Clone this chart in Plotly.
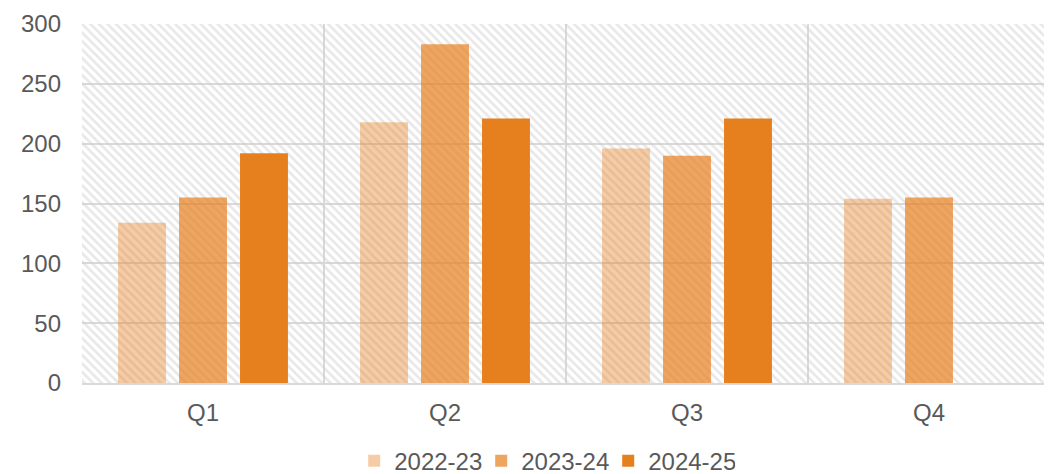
import plotly.graph_objects as go

quarters = ["Q1", "Q2", "Q3", "Q4"]
years = ["2022-23", "2023-24", "2024-25"]
values_2022 = [134, 218, 196, 154]
values_2023 = [155, 283, 190, 155]
values_2024 = [192, 221, 221, None]
y_ticks = [0, 50, 100, 150, 200, 250, 300]

series = [values_2022, values_2023, values_2024]
colors = ["rgba(230,127,30,0.4)", "rgba(230,127,30,0.7)", "rgb(230,127,30)"]
offsets = [-0.351, -0.099, 0.153]
bar_width = 0.198

fig = go.Figure()

# hatched plot background (one bar per category filling the whole slot)
fig.add_trace(go.Bar(
    x=quarters, y=[y_ticks[-1]] * len(quarters),
    width=1, offset=-0.5,
    marker=dict(color="rgba(0,0,0,0)", line=dict(width=0),
                pattern=dict(shape="\\", fgcolor="#cfcfcf", size=6, solidity=0.42)),
    showlegend=False, hoverinfo="skip",
))

for name, vals, col, off in zip(years, series, colors, offsets):
    fig.add_trace(go.Bar(
        x=quarters, y=vals, name=name,
        width=bar_width, offset=off,
        marker=dict(color=col, line=dict(width=0)),
    ))

# page body adds an 8px offset; figure is sized so the plot lands where wanted
fig.update_layout(
    width=1044, height=484,
    margin=dict(l=74, r=2, t=12, b=109),
    barmode="overlay",
    plot_bgcolor="white", paper_bgcolor="white",
    font=dict(family="Liberation Sans, Arial, sans-serif", size=24, color="#595959"),
    showlegend=True,
    legend=dict(orientation="h", x=0.478, xanchor="center", y=-0.218, yanchor="middle",
                font=dict(size=24, color="#595959"), itemclick=False,
                entrywidth=82, entrywidthmode="pixels"),
    xaxis=dict(
        type="category", tickson="boundaries", showgrid=True, gridcolor="#d9d9d9",
        gridwidth=1.5, showline=True, linecolor="#d9d9d9", linewidth=2,
        ticks="", ticklabelstandoff=7, range=[-0.5, 3.5],
    ),
    yaxis=dict(
        range=[0, 300], tickvals=y_ticks, showgrid=True, gridcolor="#d9d9d9",
        gridwidth=1.5, zeroline=False, ticks="", ticklabelstandoff=20,
        ticklabeloverflow="allow",
    ),
)

fig.write_html("out.html")
